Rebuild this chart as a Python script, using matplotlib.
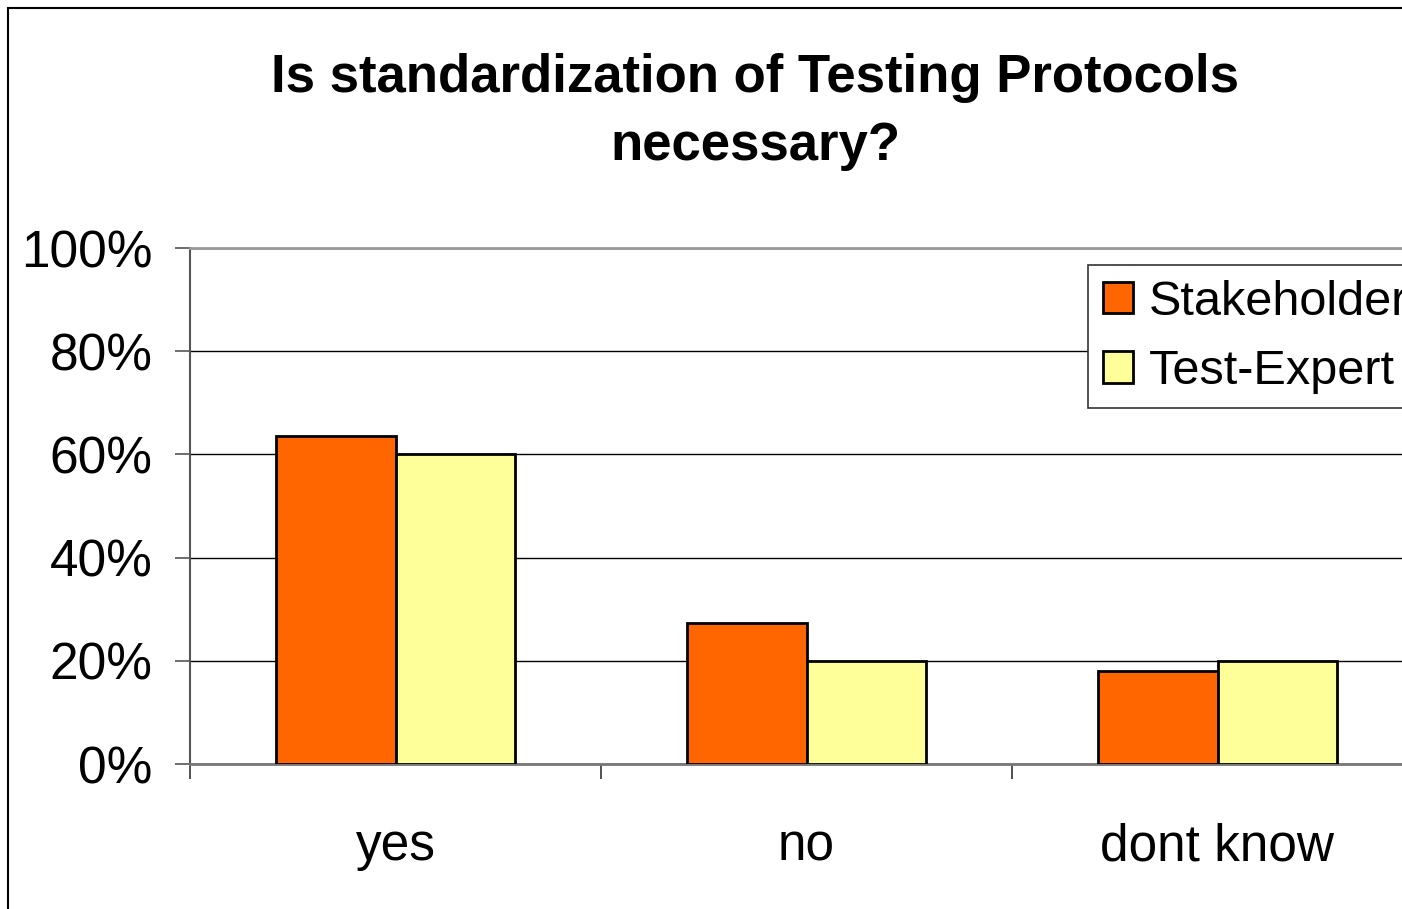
import matplotlib
matplotlib.use("Agg")
import matplotlib.pyplot as plt
import numpy as np
from matplotlib.patches import Rectangle
from matplotlib.ticker import FuncFormatter

categories = ["yes", "no", "dont know"]
series_names = ["Stakeholder", "Test-Expert"]
stakeholder = [63.5, 27.3, 18.0]
test_expert = [60.0, 20.0, 20.0]
yticks = [0, 20, 40, 60, 80, 100]
title = "Is standardization of Testing Protocols\nnecessary?"

plt.rcParams['font.family'] = ['Liberation Sans', 'DejaVu Sans']

W, H = 1402, 909
fig = plt.figure(figsize=(W / 100, H / 100), dpi=100)

# outer chart border (left and top visible, right/bottom beyond canvas)
fig.patches.append(Rectangle((8 / W, -0.05), 1.2, (H - 7.5) / H + 0.05,
                             transform=fig.transFigure, fill=False,
                             edgecolor='black', linewidth=1.5))

left, right = 190, 190 + 3 * 411
bottom, top = 764, 248
ax = fig.add_axes([left / W, 1 - bottom / H, (right - left) / W, (bottom - top) / H])

x = np.arange(len(categories))
bw = 0.29
ax.bar(x - bw / 2, stakeholder, bw, color='#FF6600', edgecolor='black',
       linewidth=2, label=series_names[0], zorder=3)
ax.bar(x + bw / 2, test_expert, bw, color='#FFFF99', edgecolor='black',
       linewidth=2, label=series_names[1], zorder=3)

ax.set_xlim(-0.5, len(categories) - 0.5)
ax.set_ylim(0, 100)
ax.set_yticks(yticks)
ax.yaxis.set_major_formatter(FuncFormatter(lambda v, p: f"{int(v)}%"))
ax.yaxis.grid(True, color='black', linewidth=1.0, zorder=0)
ax.set_axisbelow(True)

ax.set_xticks(x)
ax.set_xticklabels(categories, fontsize=37)
ax.tick_params(axis='x', which='major', length=0, pad=42)
ax.set_xticks(np.arange(len(categories)) - 0.5, minor=True)
ax.tick_params(axis='x', which='minor', length=11, width=1.2, color='#333333')
ax.tick_params(axis='y', length=11, width=1.2, color='#555555', labelsize=37, pad=16)

for s in ['right']:
    ax.spines[s].set_visible(False)
ax.spines['left'].set_color('#555555')
ax.spines['left'].set_linewidth(1.5)
ax.spines['bottom'].set_color('#777777')
ax.spines['bottom'].set_linewidth(2)
ax.spines['top'].set_color('#999999')
ax.spines['top'].set_linewidth(2)

fig.text(755 / W, 1 - 112 / H, title, ha='center', va='center',
         fontsize=38, fontweight='bold', linespacing=1.45)

leg = ax.legend(loc='upper left', bbox_to_anchor=((1088 - left) / (right - left), 1 - (265 - top) / (bottom - top)),
                fontsize=35, frameon=True, fancybox=False, framealpha=1,
                edgecolor='#333333', borderpad=0.3, handlelength=0.62,
                handleheight=0.62, handletextpad=0.33, labelspacing=0.5,
                borderaxespad=0)
leg.get_frame().set_linewidth(1.2)

fig.savefig("out.png", dpi=100)
